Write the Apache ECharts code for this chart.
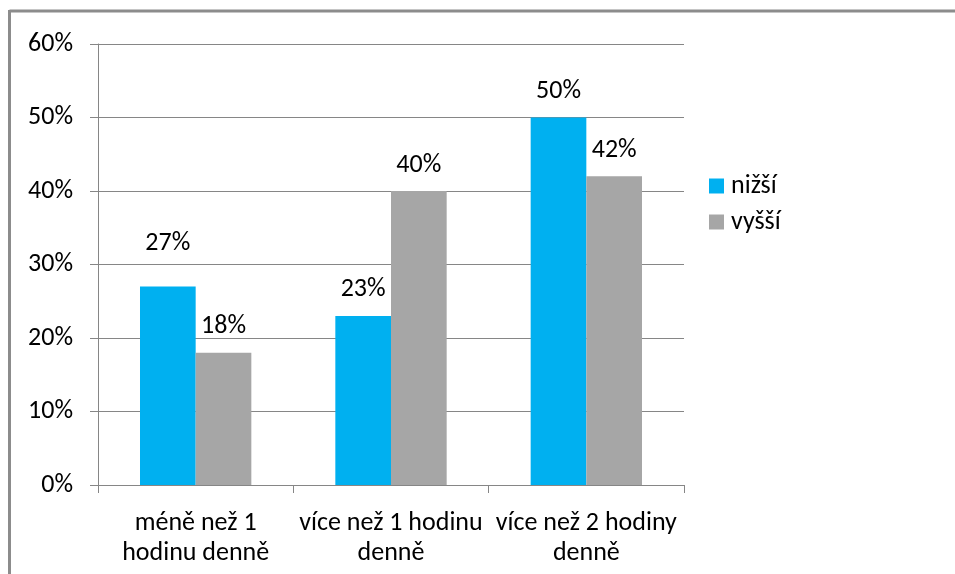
<!DOCTYPE html>
<html>
<head>
<meta charset="utf-8">
<script src="https://cdn.jsdelivr.net/npm/echarts@6/dist/echarts.min.js"></script>
<style>
html,body{margin:0;padding:0;background:#fff;}
#chart{width:955px;height:574px;}
</style>
</head>
<body>
<div id="chart"></div>
<script>
// kategorie a hodnoty (v %)
var categories = ['méně než 1\nhodinu denně', 'více než 1 hodinu\ndenně', 'více než 2 hodiny\ndenně'];
var nizsi = [27, 23, 50];
var vyssi = [18, 40, 42];
var seriesNames = ['nižší', 'vyšší'];
var yTicks = [0, 10, 20, 30, 40, 50, 60];

var FONT = 'Carlito, Calibri, "Liberation Sans", sans-serif';
var FS = 26;
var TXT = '#000';
var LINE = '#868686';

var myChart = echarts.init(document.getElementById('chart'));

// popisek u prvni modre hodnoty je v predloze posunuty vyse
function mkData(arr, raised) {
    return arr.map(function (v, i) {
        if (raised && raised[i]) {
            return {value: v, label: {distance: raised[i]}};
        }
        return v;
    });
}

var option = {
    animation: false,
    textStyle: {fontFamily: FONT},
    graphic: [
        {type: 'line', shape: {x1: 9.5, y1: 11, x2: 955, y2: 11}, style: {stroke: '#8c8c8c', lineWidth: 3}},
        {type: 'line', shape: {x1: 9.5, y1: 10, x2: 9.5, y2: 574}, style: {stroke: '#8c8c8c', lineWidth: 3}}
    ],
    legend: {
        orient: 'vertical',
        left: 704,
        top: 168,
        itemWidth: 15,
        itemHeight: 15,
        itemGap: 10,
        icon: 'rect',
        data: seriesNames,
        textStyle: {fontFamily: FONT, fontSize: FS, color: TXT, padding: [0, 0, 0, 2]}
    },
    grid: {left: 98, right: 271, top: 44, bottom: 89},
    xAxis: {
        type: 'category',
        data: categories,
        axisLine: {lineStyle: {color: LINE, width: 1}},
        axisTick: {show: true, length: 8, lineStyle: {color: LINE}},
        axisLabel: {fontFamily: FONT, fontSize: FS, color: TXT, margin: 23, lineHeight: 30, interval: 0}
    },
    yAxis: {
        type: 'value',
        min: yTicks[0],
        max: yTicks[yTicks.length - 1],
        interval: 10,
        axisLine: {show: true, lineStyle: {color: LINE, width: 1}},
        axisTick: {show: true, length: 8, lineStyle: {color: LINE}},
        splitLine: {lineStyle: {color: LINE, width: 1}},
        axisLabel: {fontFamily: FONT, fontSize: FS, color: TXT, margin: 25, formatter: '{value}%'}
    },
    series: [
        {
            name: seriesNames[0],
            type: 'bar',
            data: mkData(nizsi, {0: 30}),
            barGap: '0%',
            barCategoryGap: '43%',
            itemStyle: {color: '#00B0F0'},
            label: {show: true, position: 'top', distance: 13, formatter: '{c}%', fontFamily: FONT, fontSize: FS, color: TXT}
        },
        {
            name: seriesNames[1],
            type: 'bar',
            data: mkData(vyssi),
            barGap: '0%',
            barCategoryGap: '43%',
            itemStyle: {color: '#A6A6A6'},
            label: {show: true, position: 'top', distance: 13, formatter: '{c}%', fontFamily: FONT, fontSize: FS, color: TXT}
        }
    ]
};

myChart.setOption(option);
</script>
</body>
</html>
